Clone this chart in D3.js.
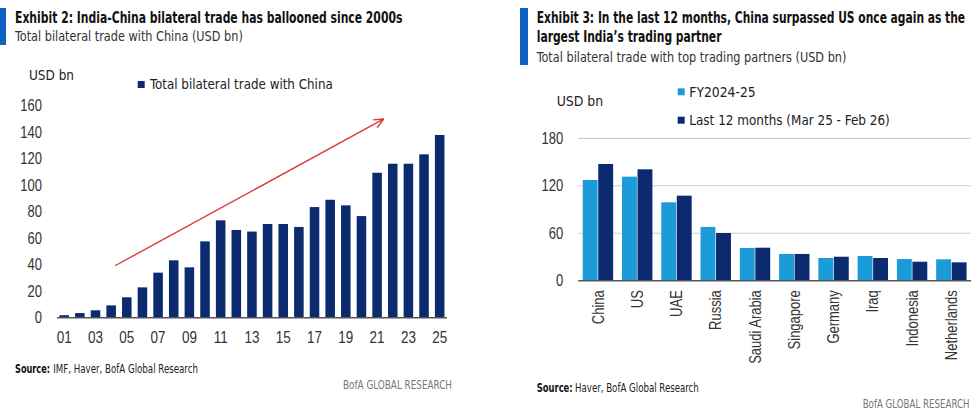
<!DOCTYPE html>
<html><head><meta charset="utf-8">
<script src="https://cdn.jsdelivr.net/npm/d3@7"></script>
<style>
html,body{margin:0;padding:0;background:#fff;}
svg{display:block;font-family:"Liberation Sans Narrow","DejaVu Sans Condensed","Liberation Sans",sans-serif;}
</style></head>
<body>
<svg id="c" width="971" height="413"></svg>
<script>
// ---------- data ----------
const years = ['01','02','03','04','05','06','07','08','09','10','11','12','13','14','15','16','17','18','19','20','21','22','23','24','25'];
const chinaTrade = [1.9,3.5,5.6,9.3,15.4,22.9,34.0,43.3,38.0,57.6,73.5,66.2,65.0,70.7,70.7,68.5,83.5,89.0,84.8,76.7,109.4,116.2,116.2,123.3,137.9];
const leftTicks = [0,20,40,60,80,100,120,140,160];
const yearLabels = ['01','03','05','07','09','11','13','15','17','19','21','23','25'];
// trend arrow annotation (bar index, value)
const arrowFrom = [3.25, 39.2];
const arrowTo = [20.43, 150];

const partners = ['China','US','UAE','Russia','Saudi Arabia','Singapore','Germany','Iraq','Indonesia','Netherlands'];
const fy2425 = [127.3,131.5,99.1,67.9,41.3,33.8,28.7,31.2,27.4,27.0];
const last12 = [147.5,140.8,107.5,60.3,41.7,33.8,30.3,28.7,24.0,23.2];
const seriesNames = ['FY2024-25','Last 12 months (Mar 25 - Feb 26)'];
const rightTicks = [0,60,120,180];

const NAVY = '#0c2a6f', LIGHT = '#1b9bd7', SIDE = '#1160c4', RED = '#e0383b';

const svg = d3.select('#c');

// text placed via transform, horizontally scaled to a target width
function fit(g, x, y, s, w, o) {
  o = o || {};
  const t = g.append('text').attr('x', 0).attr('y', 0).text(s)
    .attr('font-size', o.size || 13.5).attr('fill', o.fill || '#222');
  if (o.bold) t.attr('font-weight', 'bold');
  if (o.anchor) t.attr('text-anchor', o.anchor);
  const nat = t.node().getComputedTextLength();
  const k = w ? w / nat : 1;
  t.attr('transform', 'translate(' + x + ',' + y + ') scale(' + k + ',1)');
  return t;
}
// horizontal compression factor for tick labels so a reference label has a target width
function tickScale(sel, refText, target) {
  let k = 1;
  sel.each(function () { if (this.textContent === refText) k = target / this.getComputedTextLength(); });
  return k;
}

// ================= LEFT CHART =================
const L = svg.append('g');
L.append('rect').attr('x', 0).attr('y', 8).attr('width', 6).attr('height', 37).attr('fill', SIDE);
fit(L, 15, 23.3, 'Exhibit 2: India-China bilateral trade has ballooned since 2000s', 388, {bold: true, size: 15, fill: '#111'});
fit(L, 15, 40.5, 'Total bilateral trade with China (USD bn)', 228, {size: 13.5, fill: '#333'});
fit(L, 29, 80, 'USD bn', 45, {size: 13.5});
L.append('rect').attr('x', 137.7).attr('y', 81).attr('width', 7).attr('height', 7).attr('fill', NAVY);
fit(L, 150, 88.6, 'Total bilateral trade with China', 183, {size: 13.5});

const xL = d3.scaleBand().domain(years).range([56.4, 447.5]).paddingInner(0.39).paddingOuter(0.195);
const yL = d3.scaleLinear().domain([0, 160]).range([317.7, 105.7]);

L.selectAll('rect.bar').data(chinaTrade).join('rect').attr('class', 'bar')
  .attr('x', (d, i) => xL(years[i])).attr('width', xL.bandwidth())
  .attr('y', d => yL(d)).attr('height', d => yL(0) - yL(d)).attr('fill', NAVY);

const axL = d3.axisLeft(yL).tickValues(leftTicks).tickSize(0).tickPadding(0);
const gyL = L.append('g').attr('transform', 'translate(42,0)').call(axL);
gyL.select('.domain').remove();
const tyL = gyL.selectAll('text').attr('font-size', 16).attr('fill', '#333').attr('font-family', null).attr('x', 0);
const kyL = tickScale(tyL, '160', 21.7);
tyL.attr('transform', 'scale(' + kyL + ',1)');

const axBL = d3.axisBottom(xL).tickValues(yearLabels).tickSize(0).tickPadding(0);
const gxL = L.append('g').attr('transform', 'translate(0,' + yL(0) + ')').call(axBL);
gxL.select('.domain').remove();
const txL = gxL.selectAll('text').attr('font-size', 16).attr('fill', '#333').attr('font-family', null).attr('dy', null).attr('y', 0);
const kxL = tickScale(txL, '01', 15);
txL.attr('transform', 'translate(0,25.6) scale(' + kxL + ',1)');
L.append('line').attr('x1', 57).attr('x2', 447).attr('y1', yL(0)).attr('y2', yL(0)).attr('stroke', '#555').attr('stroke-width', 1.5);

// arrow
const ax = i => xL(years[0]) + xL.bandwidth() / 2 + i * xL.step();
const x1 = ax(arrowFrom[0]), y1 = yL(arrowFrom[1]), x2 = ax(arrowTo[0]), y2 = yL(arrowTo[1]);
L.append('line').attr('x1', x1).attr('y1', y1).attr('x2', x2).attr('y2', y2).attr('stroke', RED).attr('stroke-width', 1.4);
const ang = Math.atan2(y2 - y1, x2 - x1);
[0.42, -0.42].forEach(a => {
  L.append('line').attr('x1', x2).attr('y1', y2)
    .attr('x2', x2 - 11 * Math.cos(ang + a)).attr('y2', y2 - 11 * Math.sin(ang + a))
    .attr('stroke', RED).attr('stroke-width', 1.4);
});

fit(L, 15, 373.3, 'Source:', 35, {size: 11.5, bold: true, fill: '#111'});
fit(L, 53.3, 373.3, 'IMF, Haver, BofA Global Research', 144.7, {size: 11.5, fill: '#222'});
fit(L, 452, 389, 'BofA GLOBAL RESEARCH', 109, {size: 11.5, fill: '#777', anchor: 'end'});

// ================= RIGHT CHART =================
const R = svg.append('g');
R.append('rect').attr('x', 520).attr('y', 8).attr('width', 8).attr('height', 57).attr('fill', SIDE);
fit(R, 536.7, 23.3, 'Exhibit 3: In the last 12 months, China surpassed US once again as the', 429, {bold: true, size: 15, fill: '#111'});
fit(R, 536.7, 41.7, 'largest India\u2019s trading partner', 185, {bold: true, size: 15, fill: '#111'});
fit(R, 536.7, 61.5, 'Total bilateral trade with top trading partners (USD bn)', 310, {size: 13.5, fill: '#333'});
fit(R, 556.7, 106, 'USD bn', 46.6, {size: 13.5});
const legY = [88.3, 116.7], legLen = [66.4, 200.7];
[LIGHT, NAVY].forEach((c, k) => {
  R.append('rect').attr('x', 677.7).attr('y', legY[k]).attr('width', 7).attr('height', 7).attr('fill', c);
  fit(R, 689.3, legY[k] + 8.4, seriesNames[k], legLen[k], {size: 13.5});
});

const x0 = d3.scaleBand().domain(partners).range([578.3, 971]).paddingInner(0.226).paddingOuter(0.113);
const x1s = d3.scaleBand().domain(seriesNames).range([0, x0.bandwidth()]).paddingInner(0.04);
const yR = d3.scaleLinear().domain([0, 180]).range([280.7, 138.3]);

R.selectAll('line.grid').data(rightTicks.filter(d => d > 0)).join('line').attr('class', 'grid')
  .attr('x1', 578.3).attr('x2', 971).attr('y1', d => yR(d)).attr('y2', d => yR(d))
  .attr('stroke', '#cfcfcf').attr('stroke-width', 1.2);

const groups = R.selectAll('g.grp').data(partners).join('g').attr('class', 'grp')
  .attr('transform', d => 'translate(' + x0(d) + ',0)');
groups.selectAll('rect').data((d, i) => [fy2425[i], last12[i]]).join('rect')
  .attr('x', (d, k) => x1s(seriesNames[k])).attr('width', x1s.bandwidth())
  .attr('y', d => yR(d)).attr('height', d => yR(0) - yR(d))
  .attr('fill', (d, k) => k === 0 ? LIGHT : NAVY);

R.append('line').attr('x1', 578.3).attr('x2', 971).attr('y1', yR(0)).attr('y2', yR(0)).attr('stroke', '#555').attr('stroke-width', 1.5);

const axR = d3.axisLeft(yR).tickValues(rightTicks).tickSize(0).tickPadding(0);
const gyR = R.append('g').attr('transform', 'translate(563.3,0)').call(axR);
gyR.select('.domain').remove();
const tyR = gyR.selectAll('text').attr('font-size', 16).attr('fill', '#333').attr('font-family', null).attr('x', 0);
tyR.attr('transform', 'scale(' + kyL + ',1)');

const axBR = d3.axisBottom(x0).tickSize(0).tickPadding(0);
const gxR = R.append('g').attr('transform', 'translate(0,' + yR(0) + ')').call(axBR);
gxR.select('.domain').remove();
const txR = gxR.selectAll('text').attr('font-size', 16).attr('fill', '#333').attr('font-family', null)
  .attr('text-anchor', 'end').attr('y', 0).attr('dy', '0.35em');
const kxR = tickScale(txR, 'Saudi Arabia', 73.7);
txR.attr('transform', 'translate(0,9.5) rotate(-90) scale(' + kxR + ',1)');

fit(R, 536.7, 391.7, 'Source:', 36, {size: 11.5, bold: true, fill: '#111'});
fit(R, 575, 391.7, 'Haver, BofA Global Research', 124, {size: 11.5, fill: '#222'});
fit(R, 969.5, 407.7, 'BofA GLOBAL RESEARCH', 107, {size: 11.5, fill: '#777', anchor: 'end'});
</script>
</body></html>
